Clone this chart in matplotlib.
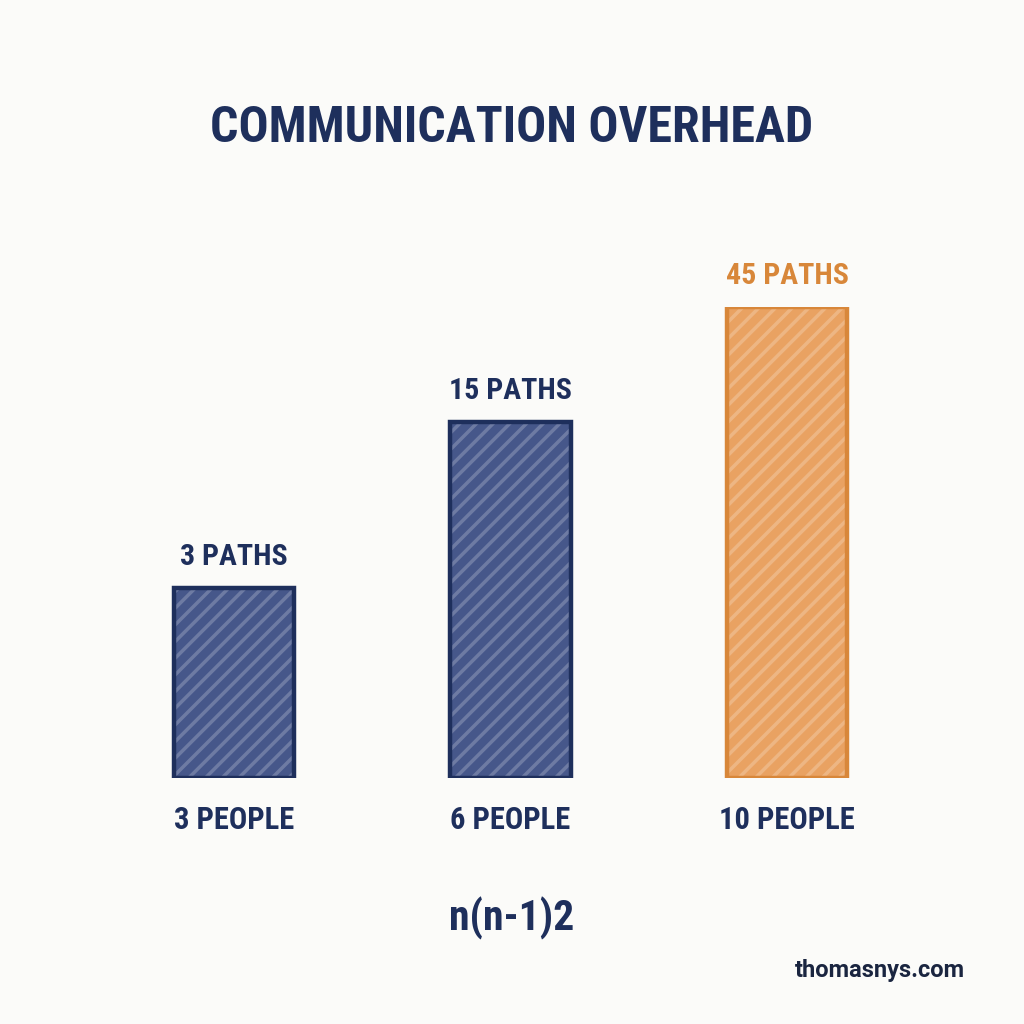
import matplotlib
matplotlib.use("Agg")
import matplotlib.pyplot as plt

# ---- data ----
title = "COMMUNICATION OVERHEAD"
categories = ["3 PEOPLE", "6 PEOPLE", "10 PEOPLE"]
paths = [3, 15, 45]
path_labels = ["3 PATHS", "15 PATHS", "45 PATHS"]
formula = "n(n-1)2"
credit = "thomasnys.com"

NAVY = "#1e2f5c"
NAVY_FILL = "#46578a"
ORANGE = "#d8873a"
ORANGE_FILL = "#e9a262"
BG = "#fbfbf9"
FONT = ["Roboto Condensed", "DejaVu Sans"]

plt.rcParams["hatch.linewidth"] = 2.5

fig = plt.figure(figsize=(10.24, 10.24), dpi=100, facecolor=BG)
W = H = 1024.0
base_px, top_px = 778.0, 307.0
ax = fig.add_axes([0, 1 - base_px / H, 1, (base_px - top_px) / H])
ax.set_facecolor("none")
ax.set_yscale("asinh", linear_width=1.0)
ax.set_ylim(0, max(paths))
px_per_unit = 276.5
c0 = 234.0
ax.set_xlim(-c0 / px_per_unit, (W - c0) / px_per_unit)
for s in ax.spines.values():
    s.set_visible(False)
ax.set_xticks([])
ax.set_yticks([])
ax.minorticks_off()

xs = list(range(len(categories)))
fills = [NAVY_FILL, NAVY_FILL, ORANGE_FILL]
edges = [NAVY, NAVY, ORANGE]
width = 0.435
ax.bar(xs, paths, width=width, color=fills, edgecolor=(1, 1, 1, 0.22),
       linewidth=0, hatch="//", zorder=2)
ax.bar(xs, paths, width=width, color="none", edgecolor=edges, linewidth=3.2,
       zorder=3)

for x, v, lab, col in zip(xs, paths, path_labels, [NAVY, NAVY, ORANGE]):
    ax.annotate(lab, xy=(x, v), xytext=(0, 22), textcoords="offset points",
                ha="center", va="center", fontsize=21.5, fontweight="bold",
                color=col, family=FONT, annotation_clip=False)

for x, lab in zip(xs, categories):
    ax.annotate(lab, xy=(x, 0), xytext=(0, -30), textcoords="offset points",
                ha="center", va="center", fontsize=22, fontweight="bold",
                color=NAVY, family=FONT, annotation_clip=False)

fig.text(0.5, 1 - 128 / H, title, ha="center", va="center", fontsize=36,
         fontweight="bold", color=NAVY, family=FONT)
fig.text(0.5, 1 - 918 / H, formula, ha="center", va="center", fontsize=30,
         fontweight="bold", color=NAVY, family=FONT)
fig.text(965 / W, 1 - 970 / H, credit, ha="right", va="center", fontsize=17,
         fontweight="bold", color="#1a2540", family=["Roboto", "DejaVu Sans"])

fig.savefig("out.png", dpi=100, facecolor=BG)
